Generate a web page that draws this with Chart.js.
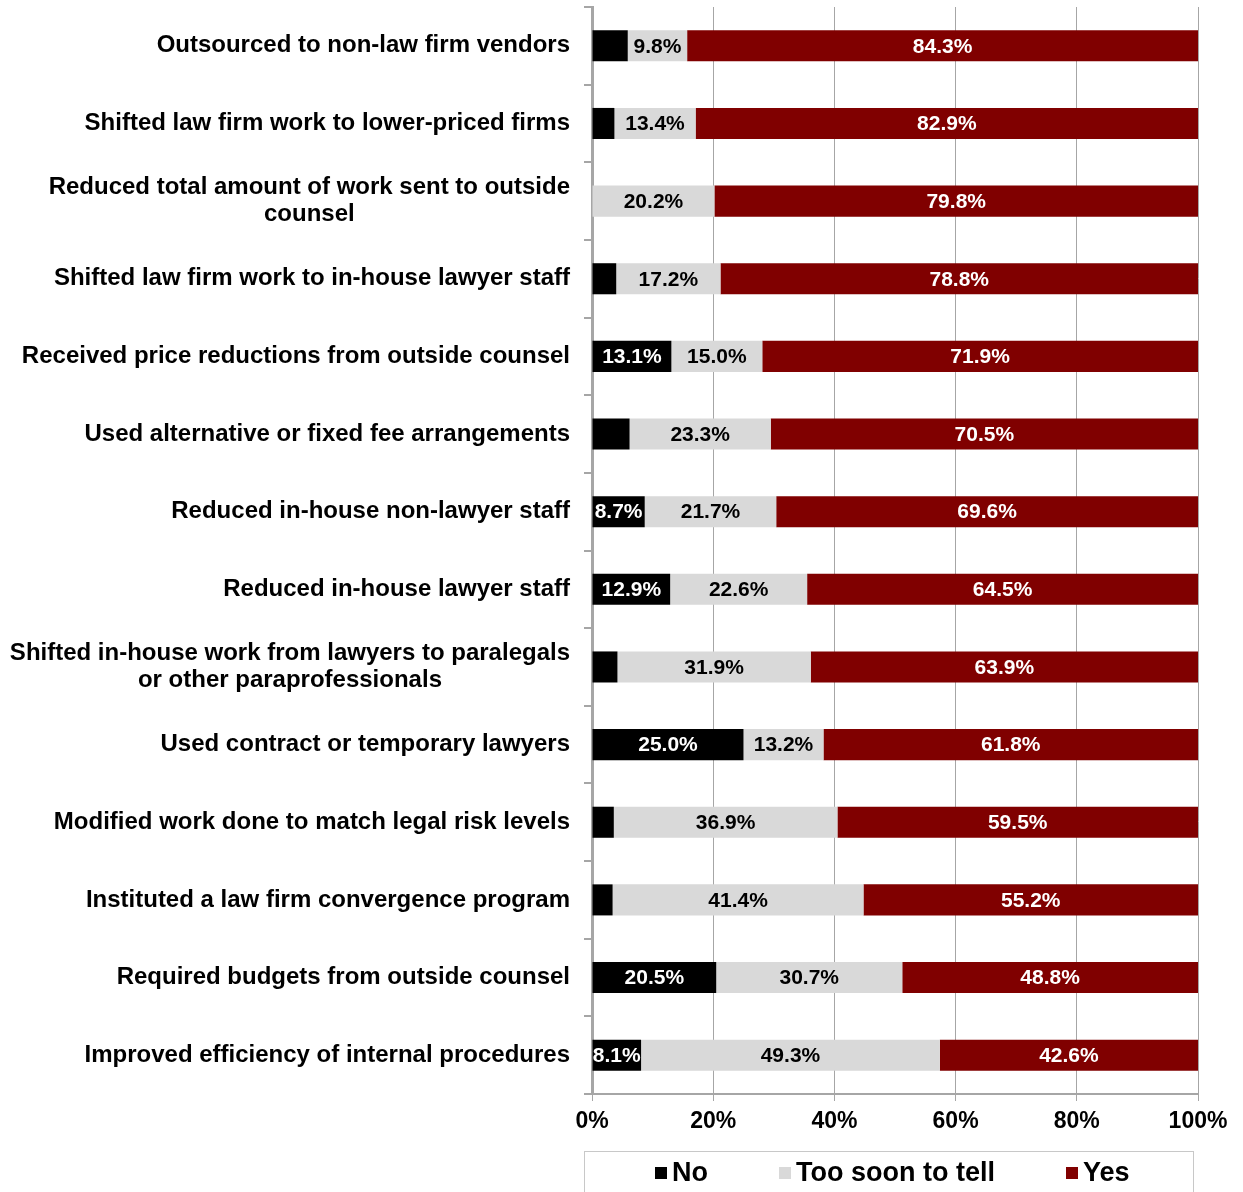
<!DOCTYPE html>
<html>
<head>
<meta charset="utf-8">
<script src="https://cdn.jsdelivr.net/npm/chart.js@4.4.1/dist/chart.umd.min.js"></script>
<style>
  html, body { margin: 0; padding: 0; background: #ffffff; }
  #wrap { width: 1243px; height: 1192px; position: relative; }
</style>
</head>
<body>
<div id="wrap"><canvas id="chart"></canvas></div>
<script>
// Cost-control measures taken by legal departments (share of respondents)
const categories = [
  ["Outsourced to non-law firm vendors"],
  ["Shifted law firm work to lower-priced firms"],
  ["Reduced total amount of work sent to outside", "counsel"],
  ["Shifted law firm work to in-house lawyer staff"],
  ["Received price reductions from outside counsel"],
  ["Used alternative or fixed fee arrangements"],
  ["Reduced in-house non-lawyer staff"],
  ["Reduced in-house lawyer staff"],
  ["Shifted in-house work from lawyers to paralegals", "or other paraprofessionals"],
  ["Used contract or temporary lawyers"],
  ["Modified work done to match legal risk levels"],
  ["Instituted a law firm convergence program"],
  ["Required budgets from outside counsel"],
  ["Improved efficiency of internal procedures"]
];
const seriesNames = ["No", "Too soon to tell", "Yes"];
const noValues = [5.9, 3.7, 0, 4.0, 13.1, 6.2, 8.7, 12.9, 4.2, 25.0, 3.6, 3.4, 20.5, 8.1];
const tooSoonValues = [9.8, 13.4, 20.2, 17.2, 15.0, 23.3, 21.7, 22.6, 31.9, 13.2, 36.9, 41.4, 30.7, 49.3];
const yesValues = [84.3, 82.9, 79.8, 78.8, 71.9, 70.5, 69.6, 64.5, 63.9, 61.8, 59.5, 55.2, 48.8, 42.6];
const xTickValues = [0, 20, 40, 60, 80, 100];

const FONT = "'Liberation Sans', Arial, Helvetica, sans-serif";
const seriesColors = ["#000000", "#d9d9d9", "#800000"];
const labelColors = ["#ffffff", "#000000", "#ffffff"];
const minLabelValue = [8, 0, 0];

// Category labels: each block right-aligned to the axis, lines centred within the block
const categoryLabelPlugin = {
  id: "categoryLabels",
  afterDraw(chart) {
    const ctx = chart.ctx;
    const yScale = chart.scales.y;
    const rightEdge = yScale.right - 22;
    const lineHeight = 27;
    ctx.save();
    ctx.font = "bold 24px " + FONT;
    ctx.fillStyle = "#000000";
    ctx.textAlign = "center";
    ctx.textBaseline = "middle";
    categories.forEach((lines, i) => {
      const yc = yScale.getPixelForValue(i);
      const maxW = Math.max(...lines.map(l => ctx.measureText(l).width));
      const cx = rightEdge - maxW / 2;
      const y0 = yc - (lines.length - 1) * lineHeight / 2;
      lines.forEach((l, k) => ctx.fillText(l, cx, y0 + k * lineHeight));
    });
    ctx.restore();
  }
};

// Value labels centred inside each bar segment
const valueLabelPlugin = {
  id: "valueLabels",
  afterDatasetsDraw(chart) {
    const ctx = chart.ctx;
    ctx.save();
    ctx.font = "bold 21px " + FONT;
    ctx.textAlign = "center";
    ctx.textBaseline = "middle";
    chart.data.datasets.forEach((ds, di) => {
      const meta = chart.getDatasetMeta(di);
      meta.data.forEach((bar, i) => {
        const v = ds.data[i];
        if (!v || v < minLabelValue[di]) return;
        const cx = (bar.x + bar.base) / 2;
        ctx.fillStyle = labelColors[di];
        ctx.fillText(v.toFixed(1) + "%", cx, bar.y + 1);
      });
    });
    ctx.restore();
  }
};

// Boxed legend under the axis
const boxedLegendPlugin = {
  id: "boxedLegend",
  afterDraw(chart) {
    const ctx = chart.ctx;
    const area = chart.chartArea;
    const top = 1151;
    ctx.save();
    ctx.strokeStyle = "#c8c8c8";
    ctx.lineWidth = 1;
    ctx.strokeRect(area.left - 7.5, top + 0.5, 609, 60);
    ctx.font = "bold 27px " + FONT;
    ctx.textBaseline = "middle";
    ctx.textAlign = "left";
    const itemX = [655, 779, 1066];
    const yMid = top + 22;
    chart.data.datasets.forEach((ds, i) => {
      ctx.fillStyle = ds.backgroundColor;
      ctx.fillRect(itemX[i], yMid - 6, 12, 12);
      ctx.fillStyle = "#000000";
      ctx.fillText(ds.label, itemX[i] + 17, yMid + 1);
    });
    ctx.restore();
  }
};

const datasets = [noValues, tooSoonValues, yesValues].map((vals, i) => ({
  label: seriesNames[i],
  data: vals,
  backgroundColor: seriesColors[i],
  borderColor: "#ffffff",
  borderWidth: 0,
  categoryPercentage: 1.0,
  barPercentage: 0.4
}));

new Chart(document.getElementById("chart"), {
  type: "bar",
  data: { labels: categories.map(c => c.join(" ")), datasets },
  options: {
    indexAxis: "y",
    responsive: true,
    maintainAspectRatio: false,
    animation: false,
    layout: { padding: { top: 7, right: 45, bottom: 48, left: 0 } },
    plugins: {
      legend: { display: false },
      tooltip: { enabled: false }
    },
    scales: {
      x: {
        stacked: true,
        min: 0,
        max: 100,
        afterBuildTicks(scale) { scale.ticks = xTickValues.map(v => ({ value: v })); },
        afterFit(scale) { scale.height = 50; },
        grid: { color: "#a6a6a6", lineWidth: 1, tickLength: 7, drawTicks: true },
        border: { color: "#a6a6a6", width: 2 },
        ticks: {
          color: "#000000",
          font: { family: FONT, size: 23, weight: "bold" },
          padding: 7,
          callback: v => v + "%"
        }
      },
      y: {
        stacked: true,
        afterFit(scale) { scale.width = 592; },
        grid: { drawOnChartArea: false, drawTicks: true, tickLength: 8, color: "#a6a6a6", lineWidth: 2, offset: true },
        border: { color: "#a6a6a6", width: 3 },
        ticks: { display: false }
      }
    }
  },
  plugins: [categoryLabelPlugin, valueLabelPlugin, boxedLegendPlugin]
});
</script>
</body>
</html>
